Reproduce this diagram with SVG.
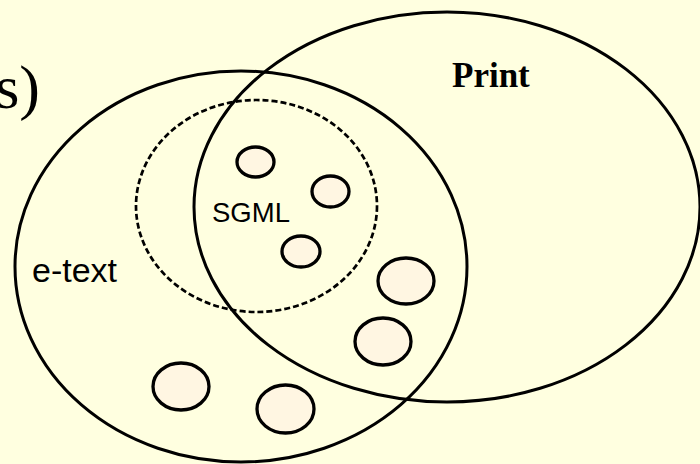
<svg xmlns="http://www.w3.org/2000/svg" width="700" height="464" viewBox="0 0 700 464">
<style>
.big{fill:none;stroke:#000;stroke-width:3}
.dash{fill:none;stroke:#000;stroke-width:2.7;stroke-dasharray:6 3}
.small{fill:#FFF6E2;stroke:#000;stroke-width:3.3}
.sans{font-family:"Liberation Sans",Arial,sans-serif;fill:#000}
.serif{font-family:"Liberation Serif","Times New Roman",serif;fill:#000}
</style>
<rect x="0" y="0" width="700" height="464" fill="#FFFFE0"/>
<text class="serif" x="40" y="108" font-size="62" text-anchor="end">s)</text>
<g id="print">
<ellipse class="big" cx="447" cy="207" rx="253" ry="195"/>
<text class="serif" x="452" y="87" font-size="35" font-weight="bold">Print</text>
</g>
<g id="etext">
<ellipse class="big" cx="241" cy="266.5" rx="226" ry="195.5"/>
<text class="sans" x="32" y="282" font-size="34">e-text</text>
</g>
<g id="sgml">
<ellipse class="dash" cx="256.5" cy="206" rx="120.5" ry="106"/>
<text class="sans" x="212" y="222" font-size="27.5">SGML</text>
</g>
<g id="items">
<ellipse id="n1" class="small" cx="255.5" cy="162" rx="18.5" ry="15"/>
<ellipse id="n2" class="small" cx="330.5" cy="191.5" rx="18.5" ry="15.5"/>
<ellipse id="n3" class="small" cx="301" cy="251.5" rx="19" ry="15.5"/>
<ellipse id="n4" class="small" cx="406" cy="281" rx="28" ry="23"/>
<ellipse id="n5" class="small" cx="383" cy="341.5" rx="28" ry="23.5"/>
<ellipse id="n6" class="small" cx="181" cy="386.5" rx="28" ry="23.5"/>
<ellipse id="n7" class="small" cx="285.5" cy="409" rx="28.5" ry="24"/>
</g>
<g id="connectors"></g>
</svg>
